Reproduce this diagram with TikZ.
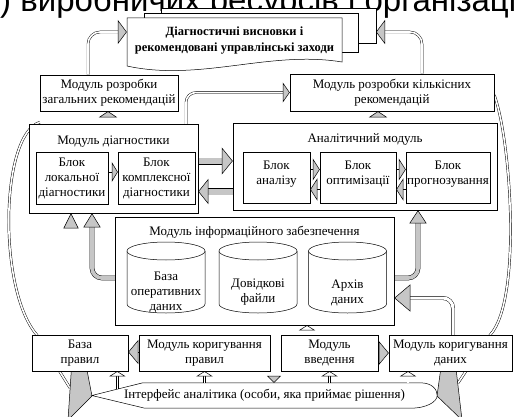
\documentclass[tikz,border=0pt]{standalone}
\usepackage{fontspec}
\setmainfont{Liberation Serif}
\newfontfamily\titlefont{Liberation Sans}
\newfontfamily\bodyfont{Liberation Serif}
\usetikzlibrary{arrows.meta,calc,backgrounds}
\newcommand\diagfont{\bodyfont\fontsize{13}{15}\selectfont}
\newcommand\docfont{\bodyfont\fontsize{12.5}{16}\selectfont\bfseries}
\newcommand\conn[4][]{\draw[#2,#1] #4; \draw[#3,#1] #4;}
\begin{document}
\begin{tikzpicture}[x=1pt, y=-1pt,
  box/.style={draw, fill=white, line width=0.5pt, align=center, inner sep=0pt, font=\diagfont},
  lbl/.style={font=\diagfont, inner sep=0pt, align=center},
  sheet/.style={draw, fill=white, line width=0.5pt},
  wsh/.style={draw, line width=0.45pt, double=white, double distance=1.6pt, shorten >=2pt},
  wsw/.style={draw, line width=0.45pt, double=white, double distance=3pt, shorten >=3pt},
  gsh/.style={draw, line width=0.45pt, double=gray!45, double distance=3.8pt, shorten >=4pt},
  bsh/.style={draw, line width=0.5pt, double=gray!45, double distance=6pt, shorten >=4pt},
  wtp/.style={draw=white, line width=0.5pt},
  gtp/.style={draw=gray!45, line width=0.5pt},
  thin1/.style={draw, line width=0.5pt},
  hd/.style n args={3}{-{Triangle[length=#1pt,width=#2pt,fill=#3,color=black,line width=0.5pt]}},
  wedge/.style={fill=gray!45, draw=black, line width=0.5pt}
]
\useasboundingbox (0,0) rectangle (516,417);
\clip (0,0) rectangle (516,417);

% title fragment at the top
\node[font=\titlefont\fontsize{33}{35}\selectfont, anchor=base west, inner sep=0pt] (ttl) at (0,12) {) виробничих ресурсів і організації};

% document stack
\draw[sheet] (161,8) rectangle (376,43);
\draw[sheet] (144,13) rectangle (358,52);
\draw[sheet] (127,18) -- (342,18) -- (342,62) .. controls (270,50) and (200,82) .. (127,66) -- cycle;
\node[font=\docfont, align=center, inner sep=0pt, minimum width=215, minimum height=40] (doc) at (234.5,41) {Діагностичні висновки і\\рекомендовані управлінські заходи};
\coordinate (backR) at (376,32);

% top row
\node[box, minimum width=138, minimum height=36] (gen) at (109,93) {Модуль розробки\\загальних рекомендацій};
\node[box, minimum width=204, minimum height=37] (qnt) at (392,92.5) {Модуль розробки кількісних\\рекомендацій};

% diagnostics module
\node[box, minimum width=169, minimum height=89] (diag) at (113.5,168.5) {};
\node[lbl] (diagT) at (113.5,142) {Модуль діагностики};
\node[box, minimum width=72, minimum height=52] (loc) at (72,178) {Блок\\локальної\\діагностики};
\node[box, minimum width=77, minimum height=52] (cmp) at (156.5,178) {Блок\\комплексної\\діагностики};

% analytic module
\node[box, minimum width=264, minimum height=87] (ana) at (365,166.5) {};
\node[lbl] (anaT) at (365,139) {Аналітичний модуль};
\node[box, minimum width=67, minimum height=51, text depth=9pt] (anl) at (276.5,177.5) {Блок\\аналізу};
\node[box, minimum width=76, minimum height=51, text depth=9pt] (opt) at (358,177.5) {Блок\\оптимізації};
\node[box, minimum width=84, minimum height=51, text depth=9pt] (prg) at (448,177.5) {Блок\\прогнозування};

% information module
\node[box, minimum width=279, minimum height=108] (info) at (254.5,271) {};
\node[lbl] (infoT) at (254.5,232) {Модуль інформаційного забезпечення};
\draw[sheet] (127,251) -- (127,304) arc[start angle=180,end angle=360,x radius=39pt,y radius=9pt] -- (205,251);
\draw[sheet] (166,251) ellipse[x radius=39pt, y radius=9pt];
\draw[sheet] (219,251) -- (219,304) arc[start angle=180,end angle=360,x radius=39pt,y radius=9pt] -- (297,251);
\draw[sheet] (258,251) ellipse[x radius=39pt, y radius=9pt];
\draw[sheet] (308.5,251) -- (308.5,304) arc[start angle=180,end angle=360,x radius=39pt,y radius=9pt] -- (386.5,251);
\draw[sheet] (347.5,251) ellipse[x radius=39pt, y radius=9pt];
\node[lbl] (cyl1) at (166,292) {База\\оперативних\\даних};
\node[lbl] (cyl2) at (258,292.5) {Довідкові\\файли};
\node[lbl] (cyl3) at (347.5,292.5) {Архів\\даних};

% bottom row
\node[box, minimum width=96, minimum height=36] (rules) at (80,353) {База\\правил};
\node[box, minimum width=131, minimum height=36] (crule) at (204.5,353) {Модуль коригування\\правил};
\node[box, minimum width=97, minimum height=36] (inp) at (329.5,353) {Модуль\\введення};
\node[box, minimum width=123, minimum height=36] (cdat) at (450.5,353) {Модуль коригування\\даних};

% analyst interface
\node[lbl, minimum width=345, minimum height=25] (iface) at (264.5,395.5) {Інтерфейс аналітика (особи, яка приймає рішення)};

% named points
\coordinate (gA) at ([xshift=-21]gen.north);
\coordinate (dL) at (doc.west |- backR);
\coordinate (qA) at ([xshift=30]qnt.north);
\coordinate (dgU) at ([xshift=-5.5]diag.north);
\coordinate (dgR) at ([xshift=72.5]diag.north);
\coordinate (anU) at ([xshift=13]ana.north);
\coordinate (dE1) at ([yshift=7.5]diag.east);
\coordinate (aW2) at ([yshift=-25]ana.west);
\coordinate (iL) at ([yshift=-7]info.west);
\coordinate (dgB) at ([xshift=-21.5]diag.south);
\coordinate (rU) at ([xshift=-9]rules.north);
\coordinate (iR) at ([yshift=-7]info.east);
\coordinate (anB) at ([xshift=53]ana.south);
\coordinate (cdU) at ([xshift=2.5]cdat.north);
\coordinate (iR2) at ([yshift=-27]info.east);
\coordinate (iD) at ([xshift=19.5]info.south);
\coordinate (inU) at ([xshift=-22.5]inp.north);
\coordinate (ifTL) at ([xshift=51]iface.north west);
\coordinate (ifA) at ($(iface.west)!0.5!(ifTL)$);
\coordinate (cdB) at ([xshift=-42.5]cdat.south);
\coordinate (l1) at ([yshift=6]loc.east);
\coordinate (a1) at ([yshift=8]anl.east);
\coordinate (a2) at ([yshift=-12]opt.west);
\coordinate (a3) at ([yshift=8]opt.east);
\coordinate (a4) at ([yshift=-12]prg.west);
\coordinate (cr1) at ([yshift=1]crule.west);
\coordinate (oL1) at ([yshift=-11]gen.south west);
\coordinate (oL2) at ([xshift=5]rules.north west);
\coordinate (oL3) at (70,388);
\coordinate (oR1) at ([yshift=-2.5]qnt.east);
\coordinate (oR2) at ([xshift=-22]cdat.north east);
\coordinate (oR3) at (458,383);

% arrows inside the two modules (above the module boxes)
\draw[thin1, hd={6}{20}{gray!45}] (l1) -- (l1 -| cmp.west);
\draw[thin1, hd={7}{22}{gray!45}] (a1) -- (a1 -| opt.west);
\draw[thin1, hd={7}{22}{gray!45}] (a2) -- (a2 -| anl.east);
\draw[thin1, hd={7}{22}{gray!45}] (a3) -- (a3 -| prg.west);
\draw[thin1, hd={7}{22}{gray!45}] (a4) -- (a4 -| opt.east);

\begin{pgfonlayer}{background}
% outer loops
\draw[wsh, shorten >=0pt] (oL1) .. controls (0,135) and (-2,290) .. (oL2) -- (oL3);
\draw[wsh, shorten >=0pt] (oR1) .. controls (511,140) and (522,300) .. (oR2) -- (oR3);
\draw[wedge] (72,360) -- (85,360) -- (92,396) -- (68,420) -- cycle;
\draw[wedge] (442,360) -- (455,360) -- (462,420) -- (437,396) -- cycle;
% interface outline
\draw[sheet] (iface.west) -- (ifTL) -- ([xshift=-17]iface.north east)
  .. controls ([xshift=-5]iface.north east) and ([yshift=6]iface.east) .. (iface.east)
  .. controls ([yshift=-6]iface.east) and ([xshift=-10]iface.south east) .. ([xshift=-27]iface.south east)
  -- ([xshift=53]iface.south west) -- cycle;
% connectors
\conn[rounded corners=12pt]{wsh}{wtp,hd={9}{24}{gray!45}}{(gA) |- (dL)}
\conn[rounded corners=12pt]{wsh}{wtp,hd={9}{24}{gray!45}}{(qA) |- (backR)}
\conn{wsh}{wtp,hd={6}{18}{gray!45}}{(dgU) -- (dgU |- gen.south)}
\conn{wsh}{wtp,hd={6}{18}{gray!45}}{(anU) -- (anU |- qnt.south)}
\conn[rounded corners=10pt]{wsh}{wtp,hd={7}{20}{gray!45}}{(dgR) |- (qnt.west)}
\conn{bsh}{gtp,hd={11}{27}{gray!45}}{(dE1) -- (dE1 -| ana.west)}
\conn{bsh}{gtp,hd={10}{25}{gray!45}}{(aW2) -- (aW2 -| diag.east)}
\conn[rounded corners=10pt]{gsh}{gtp,hd={14}{17}{gray!45}}{(iL) -| (dgB)}
\conn{wsh}{wtp,hd={15}{15}{gray!45}}{(rU) -- (rU |- diag.south)}
\conn[rounded corners=10pt]{gsh}{gtp,hd={13}{17}{gray!45}}{(iR) -| (anB)}
\conn[rounded corners=10pt]{wsw}{wtp,hd={16}{27}{gray!45}}{(cdU) |- (iR2)}
\conn{wsh}{wtp,hd={7}{14}{gray!45}}{(iD) -- (iD |- iface.north)}
\conn{wsh}{wtp,hd={5}{16}{white}}{(inU) -- (inU |- info.south)}
\conn{wsh}{wtp,hd={5}{16}{white}}{(ifA) -- (ifA |- rules.south)}
\conn{wsh}{wtp,hd={5}{16}{white}}{(crule.south |- iface.north) -- (crule.south)}
\conn{wsh}{wtp,hd={5}{16}{white}}{(inp.south |- iface.north) -- (inp.south)}
\conn{wsh}{wtp,hd={5}{16}{white}}{(cdB |- iface.north) -- (cdB)}
\draw[thin1, hd={10}{24}{gray!45}] (cr1) -- (cr1 -| rules.east);
\draw[thin1, hd={10}{24}{gray!45}] (inp.east) -- (cdat.west);
\end{pgfonlayer}
\end{tikzpicture}
\end{document}
